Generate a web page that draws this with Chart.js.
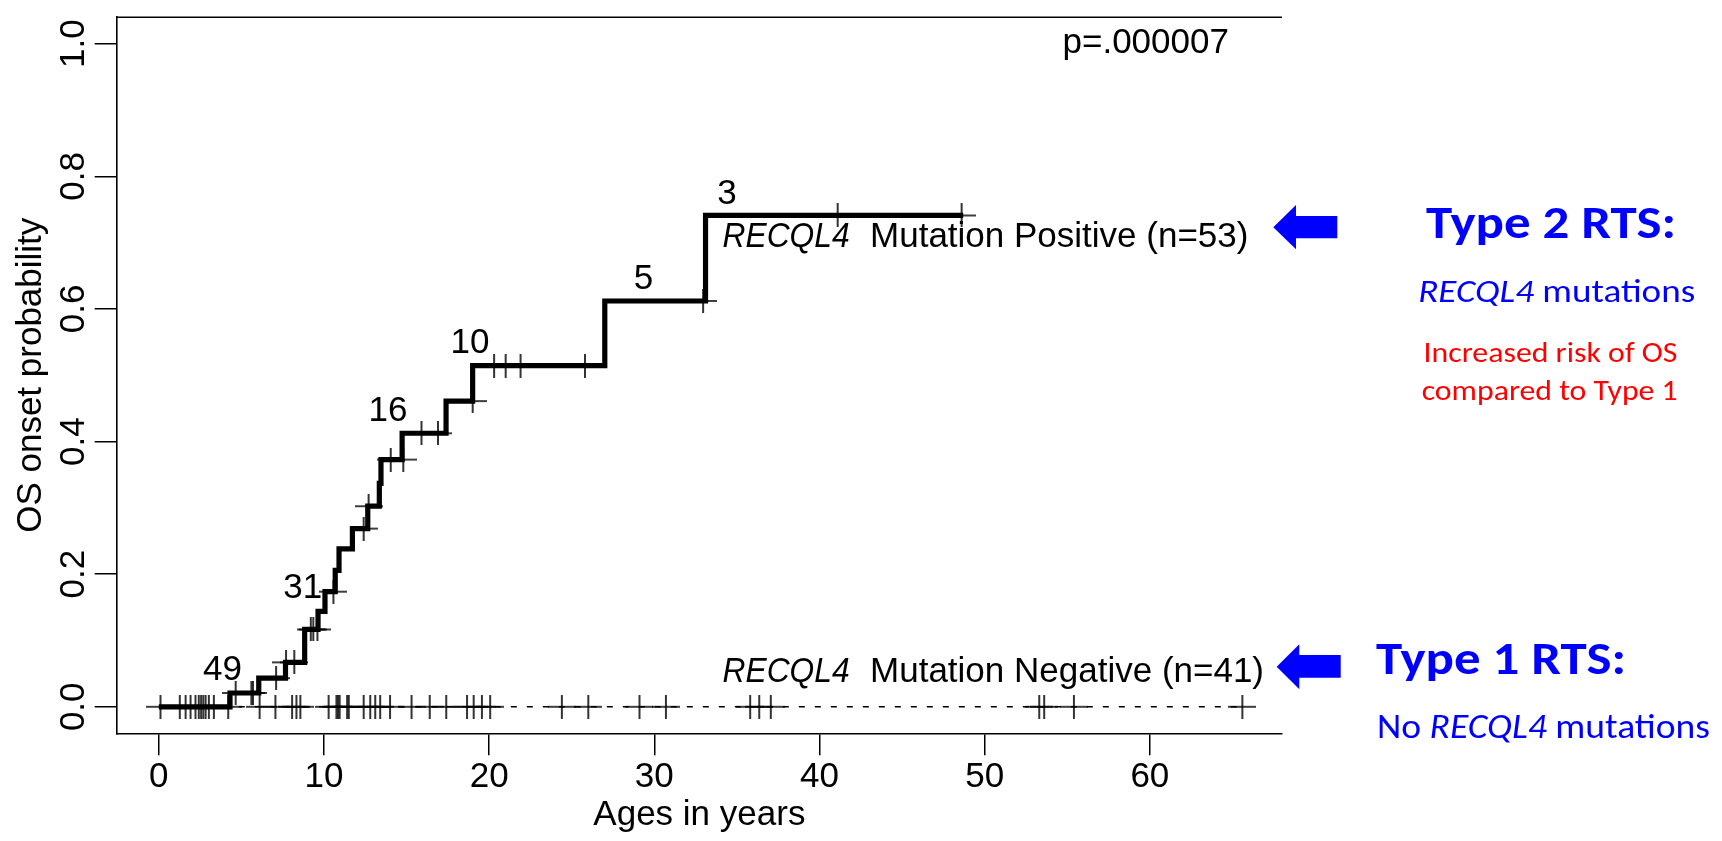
<!DOCTYPE html>
<html>
<head>
<meta charset="utf-8">
<script src="https://cdn.jsdelivr.net/npm/chart.js@4.4.1/dist/chart.umd.min.js"></script>
<style>
html,body{margin:0;padding:0;background:#ffffff;}
#wrap{position:relative;width:1722px;height:841px;overflow:hidden;background:#fff;}
#c{position:absolute;left:0;top:0;}
#panel{position:absolute;left:0;top:0;pointer-events:none;}
</style>
</head>
<body>
<div id="wrap">
<canvas id="c" width="1722" height="841"></canvas>
<svg id="panel" width="1722" height="841" font-family="Carlito, Lato, 'Open Sans', sans-serif">
  <polygon fill="#0000ff" points="1273.3,227.3 1296,205 1296,216 1337.3,216 1337.3,238.3 1296,238.3 1296,249.3"/>
  <polygon fill="#0000ff" points="1276.7,666.7 1299.3,644.3 1299.3,655 1340.7,655 1340.7,677.7 1299.3,677.7 1299.3,689.3"/>
  <text x="1551" y="238.3" text-anchor="middle" font-weight="700" font-size="47" fill="#0000ff" textLength="250" lengthAdjust="spacingAndGlyphs">Type 2 RTS:</text>
  <text x="1556.7" y="301.7" text-anchor="middle" font-size="33.5" fill="#0000ff" textLength="277" lengthAdjust="spacingAndGlyphs"><tspan font-style="italic">RECQL4</tspan> mutations</text>
  <text x="1550.5" y="361.7" text-anchor="middle" font-size="28" fill="#ff0000" textLength="254" lengthAdjust="spacingAndGlyphs">Increased risk of OS</text>
  <text x="1549.7" y="400" text-anchor="middle" font-size="28" fill="#ff0000" textLength="256" lengthAdjust="spacingAndGlyphs">compared to Type 1</text>
  <text x="1376" y="674" font-weight="700" font-size="47" fill="#0000ff" textLength="250" lengthAdjust="spacingAndGlyphs">Type 1 RTS:</text>
  <text x="1377" y="738.3" font-size="34" fill="#0000ff" textLength="333" lengthAdjust="spacingAndGlyphs">No <tspan font-style="italic">RECQL4</tspan> mutations</text>
</svg>
</div>
<script>
// ---------------- data ----------------
const xTickValues = [0, 10, 20, 30, 40, 50, 60];
const yTickValues = [0, 0.2, 0.4, 0.6, 0.8, 1.0];

// RECQL4 mutation positive: cumulative OS onset probability (step function)
const posTimes = [0, 4.31, 6.05, 7.67, 8.83, 9.64, 10.06, 10.68, 10.91, 11.72, 12.65, 13.35, 13.45, 14.73, 17.39, 19.0, 27.0, 33.1, 48.7];
const posProb  = [0, 0.0208, 0.0432, 0.067, 0.1166, 0.1438, 0.1736, 0.2058, 0.238, 0.2687, 0.3025, 0.337, 0.3728, 0.4125, 0.461, 0.5146, 0.612, 0.741, 0.741];

// censored observations (+ marks) on the positive curve
const posCensorTimes = [0.1, 1.62, 2.22, 2.56, 2.83, 4.65, 5.6, 5.7, 7.1, 7.7, 8.2, 9.2, 9.35, 9.6, 10.57, 12.4, 12.7, 14.04, 14.8, 15.9, 16.9, 19.0, 20.3, 21.0, 21.9, 25.8, 32.95, 41.1, 48.6];
const posCensorProb  = [0, 0, 0, 0, 0, 0.0208, 0.0208, 0.0208, 0.0432, 0.067, 0.067, 0.1166, 0.1166, 0.1166, 0.1736, 0.2687, 0.3025, 0.3728, 0.3728, 0.4125, 0.4125, 0.461, 0.5146, 0.5146, 0.5146, 0.5146, 0.612, 0.741, 0.741];

// RECQL4 mutation negative: no events, censored times
const negTimes = [0, 65.6];
const negProb  = [0, 0];
const negCensorTimes = [1.27, 1.92, 2.42, 2.69, 3.03, 3.33, 4.2, 6.1, 7.06, 8.07, 8.33, 8.57, 10.28, 10.75, 10.85, 10.95, 11.4, 11.5, 12.4, 12.8, 13.1, 13.4, 14.0, 15.3, 16.4, 17.4, 18.66, 19.06, 19.56, 20.06, 24.4, 26.0, 29.1, 30.7, 35.8, 36.35, 37.05, 53.3, 53.6, 55.4, 65.6];

// numbers at risk (positive group), label anchors in data units
const atRiskLabels = ['49', '31', '16', '10', '5', '3'];
const atRiskX = [3.85, 8.71, 13.87, 18.84, 29.34, 34.4];
const atRiskY = [0.0397, 0.1636, 0.4313, 0.533, 0.6297, 0.7585];

const pValueText = 'p=.000007';
const pValueAt = [59.75, 0.9865];

const groupGene = 'RECQL4';
const groupTexts = ['Mutation Positive (n=53)', 'Mutation Negative (n=41)'];
const groupAtX = [34.13, 34.13];
const groupAtY = [0.693, 0.0372];

// ---------------- styles ----------------
const FONT = '"Liberation Sans", Arial, Helvetica, sans-serif';
const INK = '#000';

function makePlus(w, h, lw) {
  const cv = document.createElement('canvas');
  cv.width = w; cv.height = h;
  const c = cv.getContext('2d');
  c.strokeStyle = '#000';
  c.lineWidth = lw;
  c.beginPath();
  c.moveTo(0, h / 2); c.lineTo(w, h / 2);
  c.moveTo(w / 2, 0); c.lineTo(w / 2, h);
  c.stroke();
  return cv;
}
const plus = makePlus(28, 24, 1.6);

const annotPlugin = {
  id: 'annot',
  afterDatasetsDraw(chart) {
    const {ctx, scales: {x, y}} = chart;
    ctx.save();
    ctx.fillStyle = INK;
    ctx.textBaseline = 'alphabetic';
    ctx.font = '35px ' + FONT;
    ctx.textAlign = 'center';
    atRiskLabels.forEach((l, i) => {
      ctx.fillText(l, x.getPixelForValue(atRiskX[i]), y.getPixelForValue(atRiskY[i]));
    });
    ctx.fillText(pValueText, x.getPixelForValue(pValueAt[0]), y.getPixelForValue(pValueAt[1]));
    ctx.textAlign = 'left';
    groupTexts.forEach((t, i) => {
      const px = x.getPixelForValue(groupAtX[i]);
      const py = y.getPixelForValue(groupAtY[i]);
      ctx.save();
      ctx.font = 'italic 35px ' + FONT;
      const w = ctx.measureText(groupGene).width;
      const target = 127;
      ctx.translate(px, py);
      ctx.scale(target / w, 1);
      ctx.fillText(groupGene, 0, 0);
      ctx.restore();
      ctx.font = '35px ' + FONT;
      ctx.fillText(t, px + 127 + 20.5, py);
    });
    // top border of the box
    const a = chart.chartArea;
    ctx.strokeStyle = INK;
    ctx.lineWidth = 1.6;
    ctx.beginPath();
    ctx.moveTo(a.left, a.top);
    ctx.lineTo(a.right, a.top);
    ctx.stroke();
    ctx.restore();
  }
};

const pts = (xs, ys) => xs.map((v, i) => ({x: v, y: ys[i]}));

new Chart(document.getElementById('c'), {
  type: 'scatter',
  data: {
    datasets: [
      {
        data: pts(negTimes, negProb), showLine: true, borderColor: INK, borderWidth: 1.5,
        borderDash: [6, 10], pointRadius: 0, stepped: false, fill: false
      },
      {
        data: negCensorTimes.map(t => ({x: t, y: 0})), showLine: false,
        pointStyle: plus, pointRadius: 12, pointHoverRadius: 12
      },
      {
        data: pts(posTimes, posProb), showLine: true, stepped: 'before', borderColor: INK,
        borderWidth: 5.2, pointRadius: 0, fill: false, borderJoinStyle: 'miter', borderCapStyle: 'butt'
      },
      {
        data: pts(posCensorTimes, posCensorProb), showLine: false,
        pointStyle: plus, pointRadius: 12, pointHoverRadius: 12
      }
    ]
  },
  options: {
    responsive: false,
    animation: false,
    events: [],
    layout: {padding: {top: 7, right: 440, left: 0, bottom: 0}},
    plugins: {legend: {display: false}, tooltip: {enabled: false}},
    scales: {
      x: {
        type: 'linear', min: -2.55, max: 68,
        afterBuildTicks: s => { s.ticks = xTickValues.map(v => ({value: v})); },
        afterFit: s => { s.height = 107.7; },
        grid: {drawOnChartArea: false, drawTicks: true, tickLength: 22, color: INK, lineWidth: 1.5},
        border: {display: true, color: INK, width: 1.6},
        ticks: {font: {family: FONT, size: 35}, color: INK, padding: 1, maxRotation: 0, autoSkip: false,
                callback: v => String(v)},
        title: {display: true, text: 'Ages in years', color: INK, font: {family: FONT, size: 35, lineHeight: 1.2},
                padding: {top: 0, bottom: 5}}
      },
      y: {
        type: 'linear', min: -0.04, max: 1.04,
        afterBuildTicks: s => { s.ticks = yTickValues.map(v => ({value: v})); },
        afterFit: s => { s.width = 116.7; },
        grid: {drawOnChartArea: false, drawTicks: true, tickLength: 22, color: INK, lineWidth: 1.5},
        border: {display: true, color: INK, width: 1.6},
        ticks: {font: {family: FONT, size: 35}, color: INK, padding: -3.8, minRotation: 90, maxRotation: 90,
                crossAlign: 'center', autoSkip: false, callback: v => v.toFixed(1)},
        title: {display: true, text: 'OS onset probability', color: INK, font: {family: FONT, size: 35, lineHeight: 1.2},
                padding: {top: 10, bottom: 0}}
      }
    }
  },
  plugins: [annotPlugin]
});
</script>
</body>
</html>
